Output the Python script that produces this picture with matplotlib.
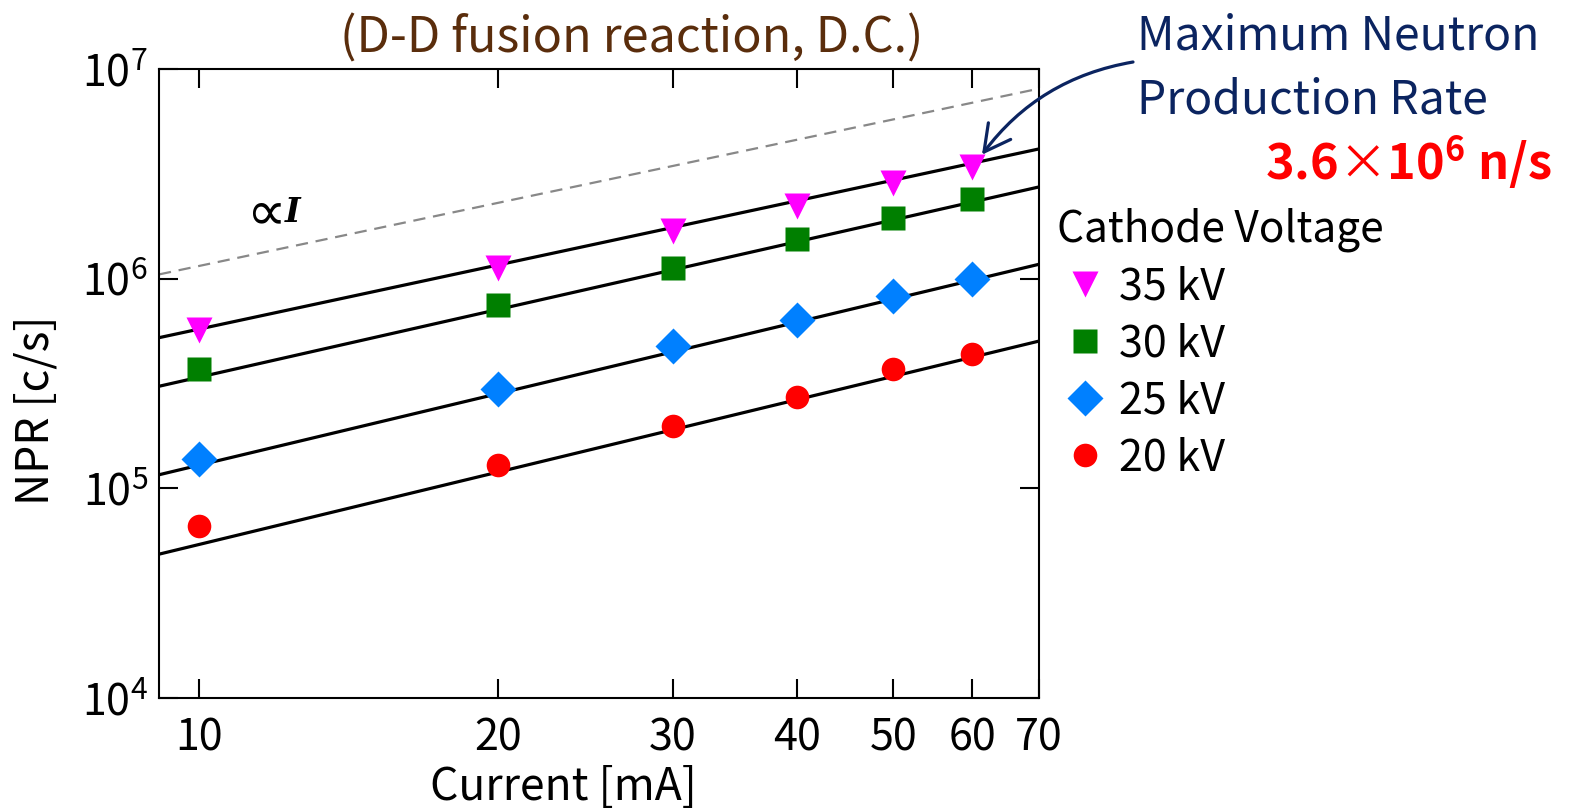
import matplotlib
matplotlib.use("Agg")
import matplotlib.pyplot as plt
import numpy as np

plt.rcParams['font.family'] = ['Noto Sans CJK JP', 'DejaVu Sans']
plt.rcParams['mathtext.fontset'] = 'custom'
plt.rcParams['mathtext.rm'] = 'Noto Sans CJK JP'
plt.rcParams['mathtext.bf'] = 'Noto Sans CJK JP:bold'

# data
current = [10, 20, 30, 40, 50, 60]          # mA
voltages = ['35 kV', '30 kV', '25 kV', '20 kV']
npr_35 = [5.68e5, 1.12e6, 1.68e6, 2.22e6, 2.85e6, 3.41e6]
npr_30 = [3.71e5, 7.48e5, 1.13e6, 1.54e6, 1.94e6, 2.40e6]
npr_25 = [1.38e5, 2.99e5, 4.79e5, 6.37e5, 8.24e5, 1.00e6]
npr_20 = [6.63e4, 1.29e5, 1.98e5, 2.72e5, 3.69e5, 4.38e5]

# power law fits: NPR = fit_at_10 * (I/10)**fit_exp
fit_at_10 = [5.75e5, 3.39e5, 1.29e5, 5.40e4]
fit_exp = [1.016, 1.073, 1.133, 1.147]
prop_at_10 = 1.15e6   # guide line, NPR proportional to I

x_ticks = [10, 20, 30, 40, 50, 60, 70]
y_ticks = [1e4, 1e5, 1e6, 1e7]
y_ticklabels = ['$10^{4}$', '$10^{5}$', '$10^{6}$', '$10^{7}$']

colors = ['#ff00ff', '#007f00', '#0080ff', '#ff0000']
markers = ['v', 's', 'D', 'o']
msizes = [19, 17, 18.5, 17]
W, H = 1571, 808

fig = plt.figure(figsize=(W / 100, H / 100), dpi=100)
ax = fig.add_axes([159 / W, 1 - 698 / H, (1038.5 - 159) / W, 629 / H])
ax.set_xscale('log')
ax.set_yscale('log')
xmin, xmax = 9.11, 70
ax.set_xlim(xmin, xmax)
ax.set_ylim(1e4, 1e7)

xx = np.geomspace(xmin, xmax, 100)
ax.plot(xx, prop_at_10 * xx / 10, '--', color='#888888', lw=1.6, dashes=(5.5, 3.5), zorder=1)
for a, n in zip(fit_at_10, fit_exp):
    ax.plot(xx, a * (xx / 10) ** n, color='black', lw=2.3, zorder=2)

handles = []
for ys, c, m, s in zip([npr_35, npr_30, npr_25, npr_20], colors, markers, msizes):
    h, = ax.plot(current, ys, linestyle='none', marker=m, color=c, ms=s, mec='none', zorder=3)
    handles.append(h)

ax.set_xticks(x_ticks)
ax.set_xticklabels([str(t) for t in x_ticks])
ax.set_yticks(y_ticks)
ax.set_yticklabels(y_ticklabels)
ax.minorticks_off()
ax.tick_params(direction='in', length=14, width=1.5, top=True, right=True, labelsize=31)
ax.tick_params(axis='x', pad=13)
ax.tick_params(axis='y', pad=8)
for sp in ax.spines.values():
    sp.set_linewidth(1.5)

ax.set_xlabel('Current [mA]', fontsize=32)
ax.xaxis.set_label_coords((563 - 159) / (1038.5 - 159), (698 - 800) / 629)
ax.xaxis.label.set_va('baseline')
ax.set_ylabel('NPR [c/s]', fontsize=32)
ax.yaxis.set_label_coords((36 - 159) / (1038.5 - 159), (698 - 410) / 629)
ax.yaxis.label.set_va('center')

# "proportional to I" label for the dashed guide
ax.text((266 - 159) / 879.5, (698 - 214) / 629, '\u221d', transform=ax.transAxes,
        fontsize=40, family='DejaVu Sans', ha='center', va='center')
ax.text((293 - 159) / 879.5, (698 - 212) / 629, 'I', transform=ax.transAxes,
        fontsize=24, family='DejaVu Serif', style='italic', fontweight='bold',
        ha='center', va='center')

fig.text(632 / W, 1 - 52 / H, '(D-D fusion reaction, D.C.)', color='#5a2d0c',
         fontsize=35, ha='center', va='baseline')
fig.text(1137 / W, 1 - 49 / H, 'Maximum Neutron', color='#0b2460',
         fontsize=33.3, ha='left', va='baseline')
fig.text(1137 / W, 1 - 113 / H, 'Production Rate', color='#0b2460',
         fontsize=33.3, ha='left', va='baseline')
fig.text(1552 / W, 1 - 180 / H, r'3.6$\times$10$^{\mathbf{6}}$ n/s', color='#ff0000',
         fontsize=35, fontweight='bold', ha='right', va='baseline')

ax.annotate('', xy=(61.4, 3.9e6), xycoords='data',
            xytext=(1133 / W, 1 - 62 / H), textcoords='figure fraction',
            arrowprops=dict(arrowstyle='->,head_length=0.75,head_width=0.4',
                            connectionstyle='arc3,rad=0.2', color='#0b2460', lw=2.3,
                            mutation_scale=25, shrinkA=0, shrinkB=0),
            annotation_clip=False)

leg = ax.legend(handles, voltages, title='Cathode Voltage', loc='upper left',
                bbox_to_anchor=(1057 / W, 1 - 208 / H), bbox_transform=fig.transFigure,
                frameon=False, fontsize=31, title_fontsize=30.5, alignment='left',
                handlelength=1.3, handletextpad=0.15, labelspacing=0.3,
                borderaxespad=0, borderpad=0)

fig.savefig('out.png', dpi=100)
